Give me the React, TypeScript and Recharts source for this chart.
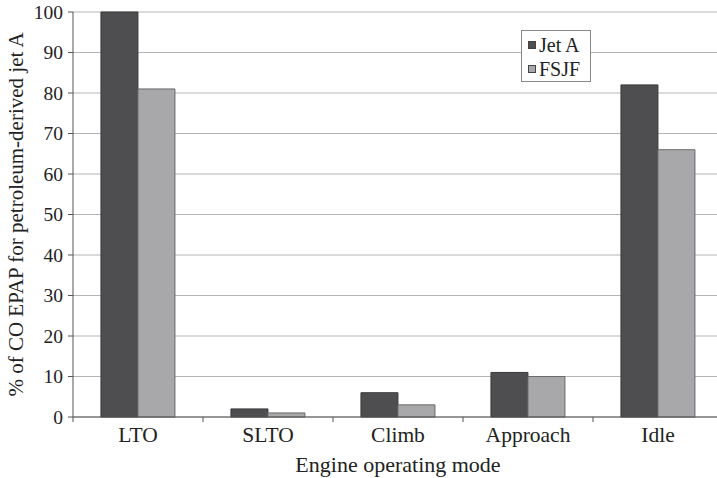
import { BarChart, Bar, XAxis, YAxis, CartesianGrid, Legend, Label } from 'recharts'

const modes = ['LTO', 'SLTO', 'Climb', 'Approach', 'Idle']
const jetA = [100, 2, 6, 11, 82]
const fsjf = [81, 1, 3, 10, 66]
const yTicks = [0, 10, 20, 30, 40, 50, 60, 70, 80, 90, 100]

const chartData = modes.map((mode, i) => ({ mode, jetA: jetA[i], fsjf: fsjf[i] }))

const FONT = '"Liberation Serif", "DejaVu Serif", serif'
const DARK = '#4e4e51'
const LIGHT = '#a8a8ab'
const HALF_BAND = 65

// x ticks: label under the category, tick marks on the category boundaries
const CategoryTick = (props: any) => {
  const { x, y, payload, index } = props
  return (
    <g>
      <line x1={x - HALF_BAND} x2={x - HALF_BAND} y1={y} y2={y + 5} stroke="#555" />
      {index === modes.length - 1 && (
        <line x1={x + HALF_BAND} x2={x + HALF_BAND} y1={y} y2={y + 5} stroke="#555" />
      )}
      <text x={x} y={y + 25} textAnchor="middle" fontSize={21.5} fill="#222" fontFamily={FONT}>
        {payload.value}
      </text>
    </g>
  )
}

const LegendBox = () => {
  const items = [
    { name: 'Jet A', color: DARK },
    { name: 'FSJF', color: LIGHT },
  ]
  return (
    <div
      style={{
        border: '1px solid #888',
        background: '#fff',
        width: 70,
        height: 52,
        boxSizing: 'border-box',
        padding: '2px 0 0 6px',
        fontFamily: FONT,
        fontSize: 20,
        color: '#222',
        textAlign: 'left',
      }}
    >
      {items.map((it) => (
        <div key={it.name} style={{ display: 'flex', alignItems: 'center', height: 24 }}>
          <span
            style={{
              width: 6,
              height: 6,
              background: it.color,
              border: '1px solid #444',
              marginRight: 3,
              display: 'inline-block',
            }}
          />
          {it.name}
        </div>
      ))}
    </div>
  )
}

export default function App() {
  return (
    <div style={{ width: 717, height: 478, overflow: 'hidden', background: '#fff', position: 'relative' }}>
      <style>{'body{margin:0}'}</style>
      <BarChart
        width={723}
        height={478}
        data={chartData}
        margin={{ top: 12, right: 0, left: 0, bottom: 0 }}
        barCategoryGap="21.5%"
        barGap={0}
      >
        <CartesianGrid vertical={false} stroke="#b5b5b5" />
        <XAxis
          dataKey="mode"
          height={61}
          stroke="#555"
          tickSize={0}
          tickMargin={0}
          tick={<CategoryTick />}
          interval={0}
        >
          <Label
            value="Engine operating mode"
            position="center"
            dy={17}
            style={{ fontFamily: FONT, fontSize: 22, fill: '#222' }}
          />
        </XAxis>
        <YAxis
          width={73}
          domain={[0, 100]}
          ticks={yTicks}
          interval={0}
          stroke="#555"
          tickSize={5}
          tickMargin={5}
          tick={{ fontFamily: FONT, fontSize: 19.5, fill: '#222' }}
        >
          <Label
            value="% of CO EPAP for petroleum-derived jet A"
            angle={-90}
            position="center"
            dx={-21}
            style={{ fontFamily: FONT, fontSize: 21, fill: '#222', textAnchor: 'middle' }}
          />
        </YAxis>
        <Legend
          content={<LegendBox />}
          layout="vertical"
          verticalAlign="middle"
          align="center"
          wrapperStyle={{ top: 30, left: 521, width: 70, height: 52 }}
        />
        <Bar dataKey="jetA" name="Jet A" fill={DARK} stroke="#3a3a3c" strokeWidth={1} isAnimationActive={false} />
        <Bar dataKey="fsjf" name="FSJF" fill={LIGHT} stroke="#6a6a6c" strokeWidth={1} isAnimationActive={false} />
      </BarChart>
    </div>
  )
}
